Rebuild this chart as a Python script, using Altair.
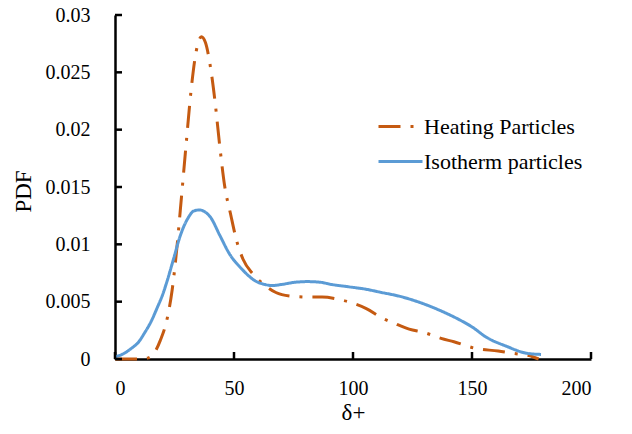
import altair as alt
import pandas as pd

# ---- data ----
heat_x = [0, 10, 14, 17, 19, 22, 24, 26, 28, 30, 32, 34, 36.3, 38, 40, 42, 44, 46,
          48.6, 51, 53.8, 58, 62, 67.6, 73.3, 81.5, 87, 94, 99.5, 105.6, 112, 117.5,
          123.6, 130, 137, 142.4, 152, 161, 167, 175.5, 178]
heat_y = [0, 0, 0.0001, 0.0007, 0.0016, 0.0036, 0.006, 0.0097, 0.0143, 0.019, 0.0235,
          0.0267, 0.0281, 0.0276, 0.0256, 0.0225, 0.0186, 0.0152, 0.0126, 0.0104,
          0.0087, 0.0074, 0.0066, 0.0058, 0.0055, 0.0054, 0.0054, 0.0052, 0.0049,
          0.0044, 0.0036, 0.0031, 0.0026, 0.0023, 0.0018, 0.0015, 0.0009, 0.0007,
          0.0005, 0.0002, 0.0]

iso_x = [0, 3, 6.7, 10, 12.2, 15, 17.8, 20, 21.9, 24.7, 27.5, 31, 33, 35.6, 38, 40,
         44, 48, 53.5, 59, 63, 66, 70, 76, 81, 86, 91, 98, 105, 112, 119, 128.5, 138,
         144, 150, 156, 164.6, 173, 179]
iso_y = [0.0002, 0.0004, 0.0009, 0.0015, 0.0022, 0.0032, 0.0045, 0.0056, 0.0068,
         0.0088, 0.0108, 0.0124, 0.0129, 0.0130, 0.0128, 0.0124, 0.0108, 0.0092,
         0.0078, 0.0068, 0.0065, 0.0064, 0.0065, 0.0067, 0.00675, 0.0067, 0.0065,
         0.0063, 0.0061, 0.0058, 0.0055, 0.0049, 0.0041, 0.0035, 0.0028, 0.0019,
         0.0011, 0.0005, 0.0004]

series_names = ["Heating Particles", "Isotherm particles"]
series_colors = ["#C55A11", "#5B9BD5"]
x_ticks = [0, 50, 100, 150, 200]
y_ticks = [0, 0.005, 0.01, 0.015, 0.02, 0.025, 0.03]

W, H = 476, 344
FONT = "Liberation Serif"

df = pd.concat([
    pd.DataFrame({"x": heat_x, "y": heat_y, "s": series_names[0]}),
    pd.DataFrame({"x": iso_x, "y": iso_y, "s": series_names[1]}),
])

xscale = alt.Scale(domain=[0, 200], nice=False, zero=False)
yscale = alt.Scale(domain=[0, 0.03], nice=False, zero=False)

lines = alt.Chart(df).mark_line(strokeWidth=3, interpolate="monotone").encode(
    x=alt.X("x:Q", scale=xscale, title="δ+",
            axis=alt.Axis(values=x_ticks, ticks=False, tickSize=0, grid=False,
                          domainColor="black", domainWidth=2.5, labelPadding=19,
                          labelFontSize=20, labelColor="black",
                          titleFontSize=23, titleFontWeight="normal",
                          titleColor="black", titleY=60, titleBaseline="alphabetic")),
    y=alt.Y("y:Q", scale=yscale, title="PDF",
            axis=alt.Axis(values=y_ticks, format=".3~f", ticks=False, tickSize=0,
                          grid=False, domainColor="black", domainWidth=2.5,
                          labelPadding=25, labelFontSize=20,
                          labelColor="black", titleFontSize=23,
                          titleFontWeight="normal", titleColor="black",
                          titleX=-92, titleY=H / 2 + 4, titleAngle=-90,
                          titleAlign="center", titleBaseline="middle")),
    color=alt.Color("s:N", scale=alt.Scale(domain=series_names, range=series_colors),
                    sort=series_names,
                    legend=alt.Legend(title=None, orient="none", legendX=262,
                                      legendY=88, symbolType="stroke",
                                      symbolSize=1936, symbolStrokeWidth=3,
                                      labelFontSize=22,
                                      labelColor="black", labelOffset=0,
                                      rowPadding=0, labelLimit=300)),
    strokeDash=alt.StrokeDash("s:N", scale=alt.Scale(domain=series_names,
                                                     range=[[22, 10, 3, 10], [1, 0]]),
                              sort=series_names, legend=None),
)

xt = pd.DataFrame({"t": x_ticks})
yt = pd.DataFrame({"t": y_ticks})
xtick_layer = alt.Chart(xt).mark_rule(color="black", strokeWidth=2.5).encode(
    x=alt.X("t:Q", scale=xscale), y=alt.value(H), y2=alt.value(H - 7))
ytick_layer = alt.Chart(yt).mark_rule(color="black", strokeWidth=2.5).encode(
    y=alt.Y("t:Q", scale=yscale), x=alt.value(0), x2=alt.value(7))

chart = alt.layer(lines, xtick_layer, ytick_layer).properties(
    width=W, height=H,
    autosize=alt.AutoSizeParams(type="none"),
    padding={"left": 107, "top": 7, "right": 33, "bottom": 67},
).configure(background="white", font=FONT).configure_view(stroke=None).configure_axis(
    labelFont=FONT, titleFont=FONT
).configure_legend(labelFont=FONT)

chart.save("out.html", embed_options={"renderer": "svg", "actions": False})
